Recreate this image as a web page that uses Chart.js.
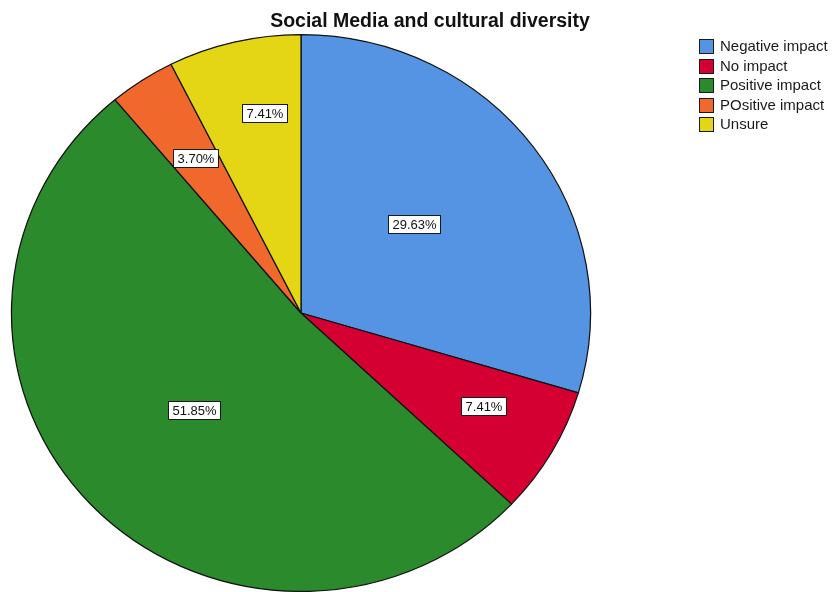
<!DOCTYPE html>
<html>
<head>
<meta charset="utf-8">
<script src="https://cdn.jsdelivr.net/npm/chart.js@4.4.0/dist/chart.umd.min.js"></script>
<style>
  html, body { margin: 0; padding: 0; background: #fff; overflow: hidden; }
  #wrap { width: 834px; height: 592px; }
</style>
</head>
<body>
<div id="wrap"><canvas id="pieChart"></canvas></div>
<script>
const categories = ["Negative impact", "No impact", "Positive impact", "POsitive impact", "Unsure"];
const percents = [29.63, 7.41, 51.85, 3.70, 7.41];
const sliceColors = ["#5593e3", "#d50032", "#2a8a2c", "#f0682c", "#e4d614"];
const chartTitle = "Social Media and cultural diversity";

const FONT = '"Liberation Sans", Arial, sans-serif';
const STRETCH_X = 1.04;  // pie is a touch wider than tall

// stretch the arcs horizontally, then put the boxed percentages on top
const ovalPie = {
  id: "ovalPie",
  beforeDatasetsDraw(chart) {
    const arc = chart.getDatasetMeta(0).data[0];
    const ctx = chart.ctx;
    ctx.save();
    ctx.translate(arc.x, arc.y);
    ctx.scale(STRETCH_X, 1);
    ctx.translate(-arc.x, -arc.y);
  },
  afterDatasetsDraw(chart, args, opts) {
    const ctx = chart.ctx;
    ctx.restore();
    const meta = chart.getDatasetMeta(0);
    ctx.save();
    ctx.font = "13px " + FONT;
    ctx.textAlign = "center";
    ctx.textBaseline = "middle";
    ctx.lineWidth = 1;
    meta.data.forEach((arc, i) => {
      const ang = arc.startAngle + (arc.endAngle - arc.startAngle) * opts.labelAngle[i];
      const r = arc.outerRadius * opts.labelRadius[i];
      const x = arc.x + Math.cos(ang) * r * STRETCH_X;
      const y = arc.y + Math.sin(ang) * r;
      const text = percents[i].toFixed(2) + "%";
      const w = Math.round(ctx.measureText(text).width + 8);
      const h = 18;
      const bx = Math.round(x - w / 2) + 0.5;
      const by = Math.round(y - h / 2) + 0.5;
      ctx.fillStyle = "#ffffff";
      ctx.fillRect(bx, by, w, h);
      ctx.strokeStyle = "#1a1a1a";
      ctx.strokeRect(bx, by, w, h);
      ctx.fillStyle = "#111";
      ctx.fillText(text, bx + w / 2, by + h / 2 + 1);
    });
    ctx.restore();
  }
};

const titleAndLegend = {
  id: "titleAndLegend",
  afterDraw(chart) {
    const ctx = chart.ctx;
    const colors = chart.data.datasets[0].backgroundColor;
    ctx.save();
    ctx.fillStyle = "#111";
    ctx.font = "bold 19.5px " + FONT;
    ctx.textAlign = "center";
    ctx.textBaseline = "alphabetic";
    ctx.fillText(chartTitle, 430, 27);

    ctx.font = "15px " + FONT;
    ctx.textAlign = "left";
    ctx.textBaseline = "middle";
    chart.data.labels.forEach((lab, i) => {
      const top = 39 + i * 19.5;
      ctx.fillStyle = colors[i];
      ctx.fillRect(699, Math.round(top), 14, 14);
      ctx.strokeStyle = "#1a1a1a";
      ctx.lineWidth = 1;
      ctx.strokeRect(699.5, Math.round(top) + 0.5, 14, 14);
      ctx.fillStyle = "#1a1a1a";
      ctx.fillText(lab, 720, Math.round(top) + 8);
    });
    ctx.restore();
  }
};

new Chart(document.getElementById("pieChart"), {
  type: "pie",
  data: {
    labels: categories,
    datasets: [{
      data: percents,
      backgroundColor: sliceColors,
      borderColor: "#111",
      borderWidth: 1.2,
      clip: false
    }]
  },
  options: {
    responsive: true,
    maintainAspectRatio: false,
    animation: false,
    layout: {
      padding: { left: 22, right: 254, top: 34, bottom: 0 }
    },
    plugins: {
      legend: { display: false },
      title: { display: false },
      tooltip: { enabled: false },
      ovalPie: {
        labelRadius: [0.504, 0.713, 0.509, 0.665, 0.728],
        labelAngle: [0.475, 0.42, 0.5, 0.5, 0.63]
      }
    }
  },
  plugins: [ovalPie, titleAndLegend]
});
</script>
</body>
</html>
